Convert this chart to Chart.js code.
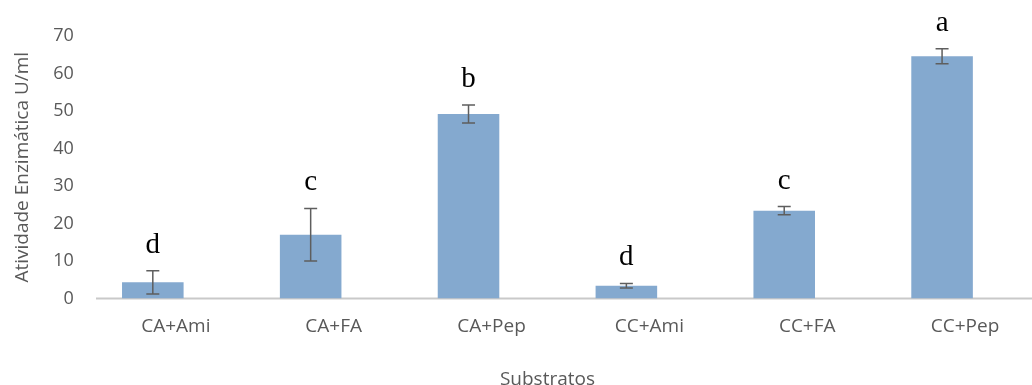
<!DOCTYPE html>
<html>
<head>
<meta charset="utf-8">
<script src="https://cdn.jsdelivr.net/npm/chart.js@4.4.1/dist/chart.umd.min.js"></script>
<style>
  html, body { margin: 0; padding: 0; background: #ffffff; overflow: hidden; }
  #wrap { width: 1032px; height: 385px; position: relative; }
</style>
</head>
<body>
<div id="wrap"><canvas id="c"></canvas></div>
<script>
const categories = ['CA+Ami', 'CA+FA', 'CA+Pep', 'CC+Ami', 'CC+FA', 'CC+Pep'];
const activity = [4.3, 17.0, 49.2, 3.4, 23.4, 64.6];
const errors = [3.1, 7.0, 2.4, 0.6, 1.1, 2.0];
const letters = ['d', 'c', 'b', 'd', 'c', 'a'];
const yTicks = [0, 10, 20, 30, 40, 50, 60, 70];

const grey = '#595959';

const errorBarsPlugin = {
  id: 'errorBars',
  afterDatasetsDraw(chart) {
    const ctx = chart.ctx;
    const meta = chart.getDatasetMeta(0);
    const y = chart.scales.y;
    ctx.save();
    ctx.strokeStyle = '#5e5e5e';
    ctx.lineWidth = 1.5;
    meta.data.forEach((bar, i) => {
      const x = bar.x;
      const top = y.getPixelForValue(activity[i] + errors[i]);
      const bot = y.getPixelForValue(activity[i] - errors[i]);
      const cap = 6.5;
      ctx.beginPath();
      ctx.moveTo(x, top); ctx.lineTo(x, bot);
      ctx.moveTo(x - cap, top); ctx.lineTo(x + cap, top);
      ctx.moveTo(x - cap, bot); ctx.lineTo(x + cap, bot);
      ctx.stroke();
      // significance letters
      ctx.fillStyle = '#000000';
      ctx.font = '29px "Liberation Serif", "DejaVu Serif", serif';
      ctx.textAlign = 'center';
      ctx.textBaseline = 'alphabetic';
      ctx.fillText(letters[i], x, top - 18);
    });
    ctx.restore();
  }
};

const baseLinePlugin = {
  id: 'baseLine',
  beforeDatasetsDraw(chart) {
    const ctx = chart.ctx;
    const y0 = chart.scales.y.getPixelForValue(0);
    ctx.save();
    ctx.strokeStyle = '#c9c9c9';
    ctx.lineWidth = 2;
    ctx.beginPath();
    ctx.moveTo(96, y0);
    ctx.lineTo(chart.width, y0);
    ctx.stroke();
    ctx.restore();
  }
};

new Chart(document.getElementById('c'), {
  type: 'bar',
  data: {
    labels: categories,
    datasets: [{
      data: activity,
      backgroundColor: '#84a9cf',
      borderWidth: 0,
      barPercentage: 1,
      categoryPercentage: 0.39
    }]
  },
  options: {
    responsive: true,
    maintainAspectRatio: false,
    animation: false,
    layout: { padding: { top: 36, right: 11, left: 3.5, bottom: -6 } },
    plugins: { legend: { display: false }, tooltip: { enabled: false } },
    scales: {
      x: {
        grid: { display: false, drawTicks: false },
        border: { display: false },
        ticks: {
          color: grey,
          padding: 17,
          labelOffset: 23,
          font: { family: '"Open Sans"', size: 19 }
        },
        title: {
          display: true,
          text: 'Substratos',
          color: grey,
          font: { family: '"Open Sans"', size: 19 },
          padding: { top: 13, bottom: 0 }
        }
      },
      y: {
        min: 0,
        max: 70,
        afterBuildTicks(scale) { scale.ticks = yTicks.map(v => ({ value: v })); },
        grid: { display: false, drawTicks: false },
        border: { display: false },
        ticks: {
          color: grey,
          padding: 0,
          font: { family: '"Open Sans"', size: 18 }
        },
        title: {
          display: true,
          text: 'Atividade Enzimática U/ml',
          color: grey,
          font: { family: '"Open Sans"', size: 19 },
          padding: { top: 8, bottom: 19 }
        }
      }
    }
  },
  plugins: [baseLinePlugin, errorBarsPlugin]
});
</script>
</body>
</html>
